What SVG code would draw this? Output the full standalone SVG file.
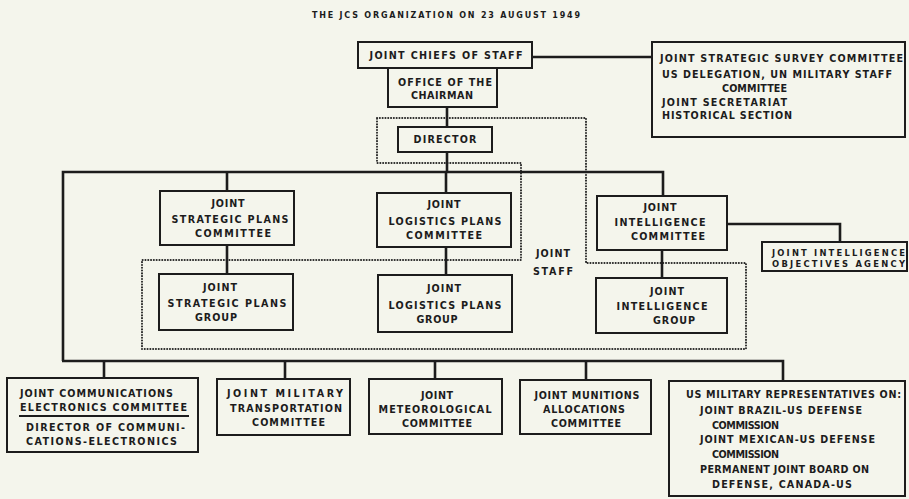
<svg xmlns="http://www.w3.org/2000/svg" width="909" height="499" viewBox="0 0 909 499">
<style>
.bg{fill:#f4f5ec}
.box{fill:none;stroke:#1c1c1c;stroke-width:2}
.ln{fill:none;stroke:#1c1c1c;stroke-width:2.6}
.dot{fill:none;stroke:#262626;stroke-width:2;stroke-dasharray:0.1 2.7;stroke-linecap:round}
text{font-family:"DejaVu Sans","Liberation Sans",sans-serif;font-weight:bold;font-size:9.6px;fill:#1c1c1c}
.m{text-anchor:middle}
.s{font-size:8.4px}
.ti{font-size:8px}
</style>
<rect class="bg" x="0" y="0" width="909" height="499"/>
<text class="m ti" x="446" y="18" textLength="268">THE JCS ORGANIZATION ON 23 AUGUST 1949</text>

<g id="joint-staff-outline">
<path class="dot" d="M377,118 H586 V263 H746 V349 H142 V260 H521 V163 H377 Z"/>
<text class="m" x="553" y="257" textLength="34">JOINT</text>
<text class="m" x="553" y="275" textLength="40">STAFF</text>
</g>

<g id="connectors">
<path class="ln" d="M532,57 H652"/>
<path class="ln" d="M447,107 V127"/>
<path class="ln" d="M447,152 V172"/>
<path class="ln" d="M63,361 V172 H663 V196"/>
<path class="ln" d="M227,172 V191"/>
<path class="ln" d="M446,172 V193"/>
<path class="ln" d="M227,245 V274"/>
<path class="ln" d="M446,247 V275"/>
<path class="ln" d="M662,250 V278"/>
<path class="ln" d="M727,224 H840 V242"/>
<path class="ln" d="M62,361 H783 V381"/>
<path class="ln" d="M104,361 V378"/>
<path class="ln" d="M285,361 V379"/>
<path class="ln" d="M435,361 V379"/>
<path class="ln" d="M586,361 V380"/>
</g>

<g id="jcs">
<rect class="box" x="358" y="42" width="174" height="26"/>
<text class="m" x="446" y="59" textLength="153">JOINT CHIEFS OF STAFF</text>
</g>
<g id="office-chairman">
<rect class="box" x="388" y="68" width="109" height="39"/>
<text class="m" x="445" y="86" textLength="94">OFFICE OF THE</text>
<text class="m" x="442" y="99" textLength="62">CHAIRMAN</text>
</g>
<g id="director">
<rect class="box" x="398" y="127" width="94" height="25"/>
<text class="m" x="445" y="143" textLength="63">DIRECTOR</text>
</g>
<g id="jssc">
<rect class="box" x="652" y="42" width="253" height="95"/>
<text x="660" y="62" textLength="243">JOINT STRATEGIC SURVEY COMMITTEE</text>
<text x="662" y="78" textLength="230">US DELEGATION, UN MILITARY STAFF</text>
<text x="722" y="92" textLength="65">COMMITTEE</text>
<text x="662" y="106" textLength="125">JOINT SECRETARIAT</text>
<text x="662" y="119" textLength="130">HISTORICAL SECTION</text>
</g>

<g id="jspc">
<rect class="box" x="160" y="191" width="134" height="54"/>
<text class="m" x="228" y="207" textLength="33">JOINT</text>
<text class="m" x="230" y="223" textLength="117">STRATEGIC PLANS</text>
<text class="m" x="233" y="237" textLength="76">COMMITTEE</text>
</g>
<g id="jlpc">
<rect class="box" x="377" y="193" width="134" height="54"/>
<text class="m" x="444" y="208" textLength="33">JOINT</text>
<text class="m" x="445" y="225" textLength="113">LOGISTICS PLANS</text>
<text class="m" x="444" y="239" textLength="76">COMMITTEE</text>
</g>
<g id="jic">
<rect class="box" x="597" y="196" width="130" height="54"/>
<text class="m" x="660" y="211" textLength="33">JOINT</text>
<text class="m" x="660" y="226" textLength="91">INTELLIGENCE</text>
<text class="m" x="668" y="240" textLength="74">COMMITTEE</text>
</g>
<g id="jioa">
<rect class="box" x="762" y="242" width="145" height="29"/>
<text class="s" x="772" y="256" textLength="133">JOINT INTELLIGENCE</text>
<text class="s" x="772" y="267" textLength="133">OBJECTIVES AGENCY</text>
</g>

<g id="jspg">
<rect class="box" x="159" y="274" width="134" height="56"/>
<text class="m" x="220" y="291" textLength="34">JOINT</text>
<text class="m" x="227" y="307" textLength="119">STRATEGIC PLANS</text>
<text class="m" x="216" y="321" textLength="42">GROUP</text>
</g>
<g id="jlpg">
<rect class="box" x="378" y="275" width="134" height="57"/>
<text class="m" x="444" y="292" textLength="34">JOINT</text>
<text class="m" x="445" y="309" textLength="113">LOGISTICS PLANS</text>
<text class="m" x="437" y="323" textLength="41">GROUP</text>
</g>
<g id="jig">
<rect class="box" x="596" y="278" width="131" height="55"/>
<text class="m" x="667" y="295" textLength="34">JOINT</text>
<text class="m" x="662" y="310" textLength="91">INTELLIGENCE</text>
<text class="m" x="674" y="324" textLength="42">GROUP</text>
</g>

<g id="jcec">
<rect class="box" x="7" y="378" width="191" height="74"/>
<text x="20" y="397" textLength="153">JOINT COMMUNICATIONS</text>
<text x="20" y="411" textLength="167">ELECTRONICS COMMITTEE</text>
<path class="box" d="M19,416 H189" stroke-width="2.2"/>
<text x="26" y="431" textLength="159">DIRECTOR OF COMMUNI-</text>
<text x="26" y="445" textLength="151">CATIONS-ELECTRONICS</text>
</g>
<g id="jmtc">
<rect class="box" x="217" y="379" width="133" height="56"/>
<text x="227" y="397" textLength="116">JOINT MILITARY</text>
<text x="230" y="412" textLength="112">TRANSPORTATION</text>
<text x="252" y="426" textLength="73">COMMITTEE</text>
</g>
<g id="jmc">
<rect class="box" x="369" y="379" width="133" height="55"/>
<text class="m" x="437" y="399" textLength="32">JOINT</text>
<text class="m" x="435" y="413" textLength="113">METEOROLOGICAL</text>
<text class="m" x="437" y="427" textLength="70">COMMITTEE</text>
</g>
<g id="jmac">
<rect class="box" x="520" y="380" width="131" height="54"/>
<text class="m" x="587" y="399" textLength="105">JOINT MUNITIONS</text>
<text class="m" x="584" y="413" textLength="82">ALLOCATIONS</text>
<text class="m" x="586" y="427" textLength="70">COMMITTEE</text>
</g>
<g id="usmr">
<rect class="box" x="669" y="381" width="236" height="115"/>
<text x="686" y="398" textLength="215">US MILITARY REPRESENTATIVES ON:</text>
<text x="700" y="414" textLength="162">JOINT BRAZIL-US DEFENSE</text>
<text x="712" y="429" textLength="67">COMMISSION</text>
<text x="700" y="443" textLength="175">JOINT MEXICAN-US DEFENSE</text>
<text x="712" y="458" textLength="67">COMMISSION</text>
<text x="700" y="473" textLength="169">PERMANENT JOINT BOARD ON</text>
<text x="712" y="488" textLength="140">DEFENSE, CANADA-US</text>
</g>
</svg>
